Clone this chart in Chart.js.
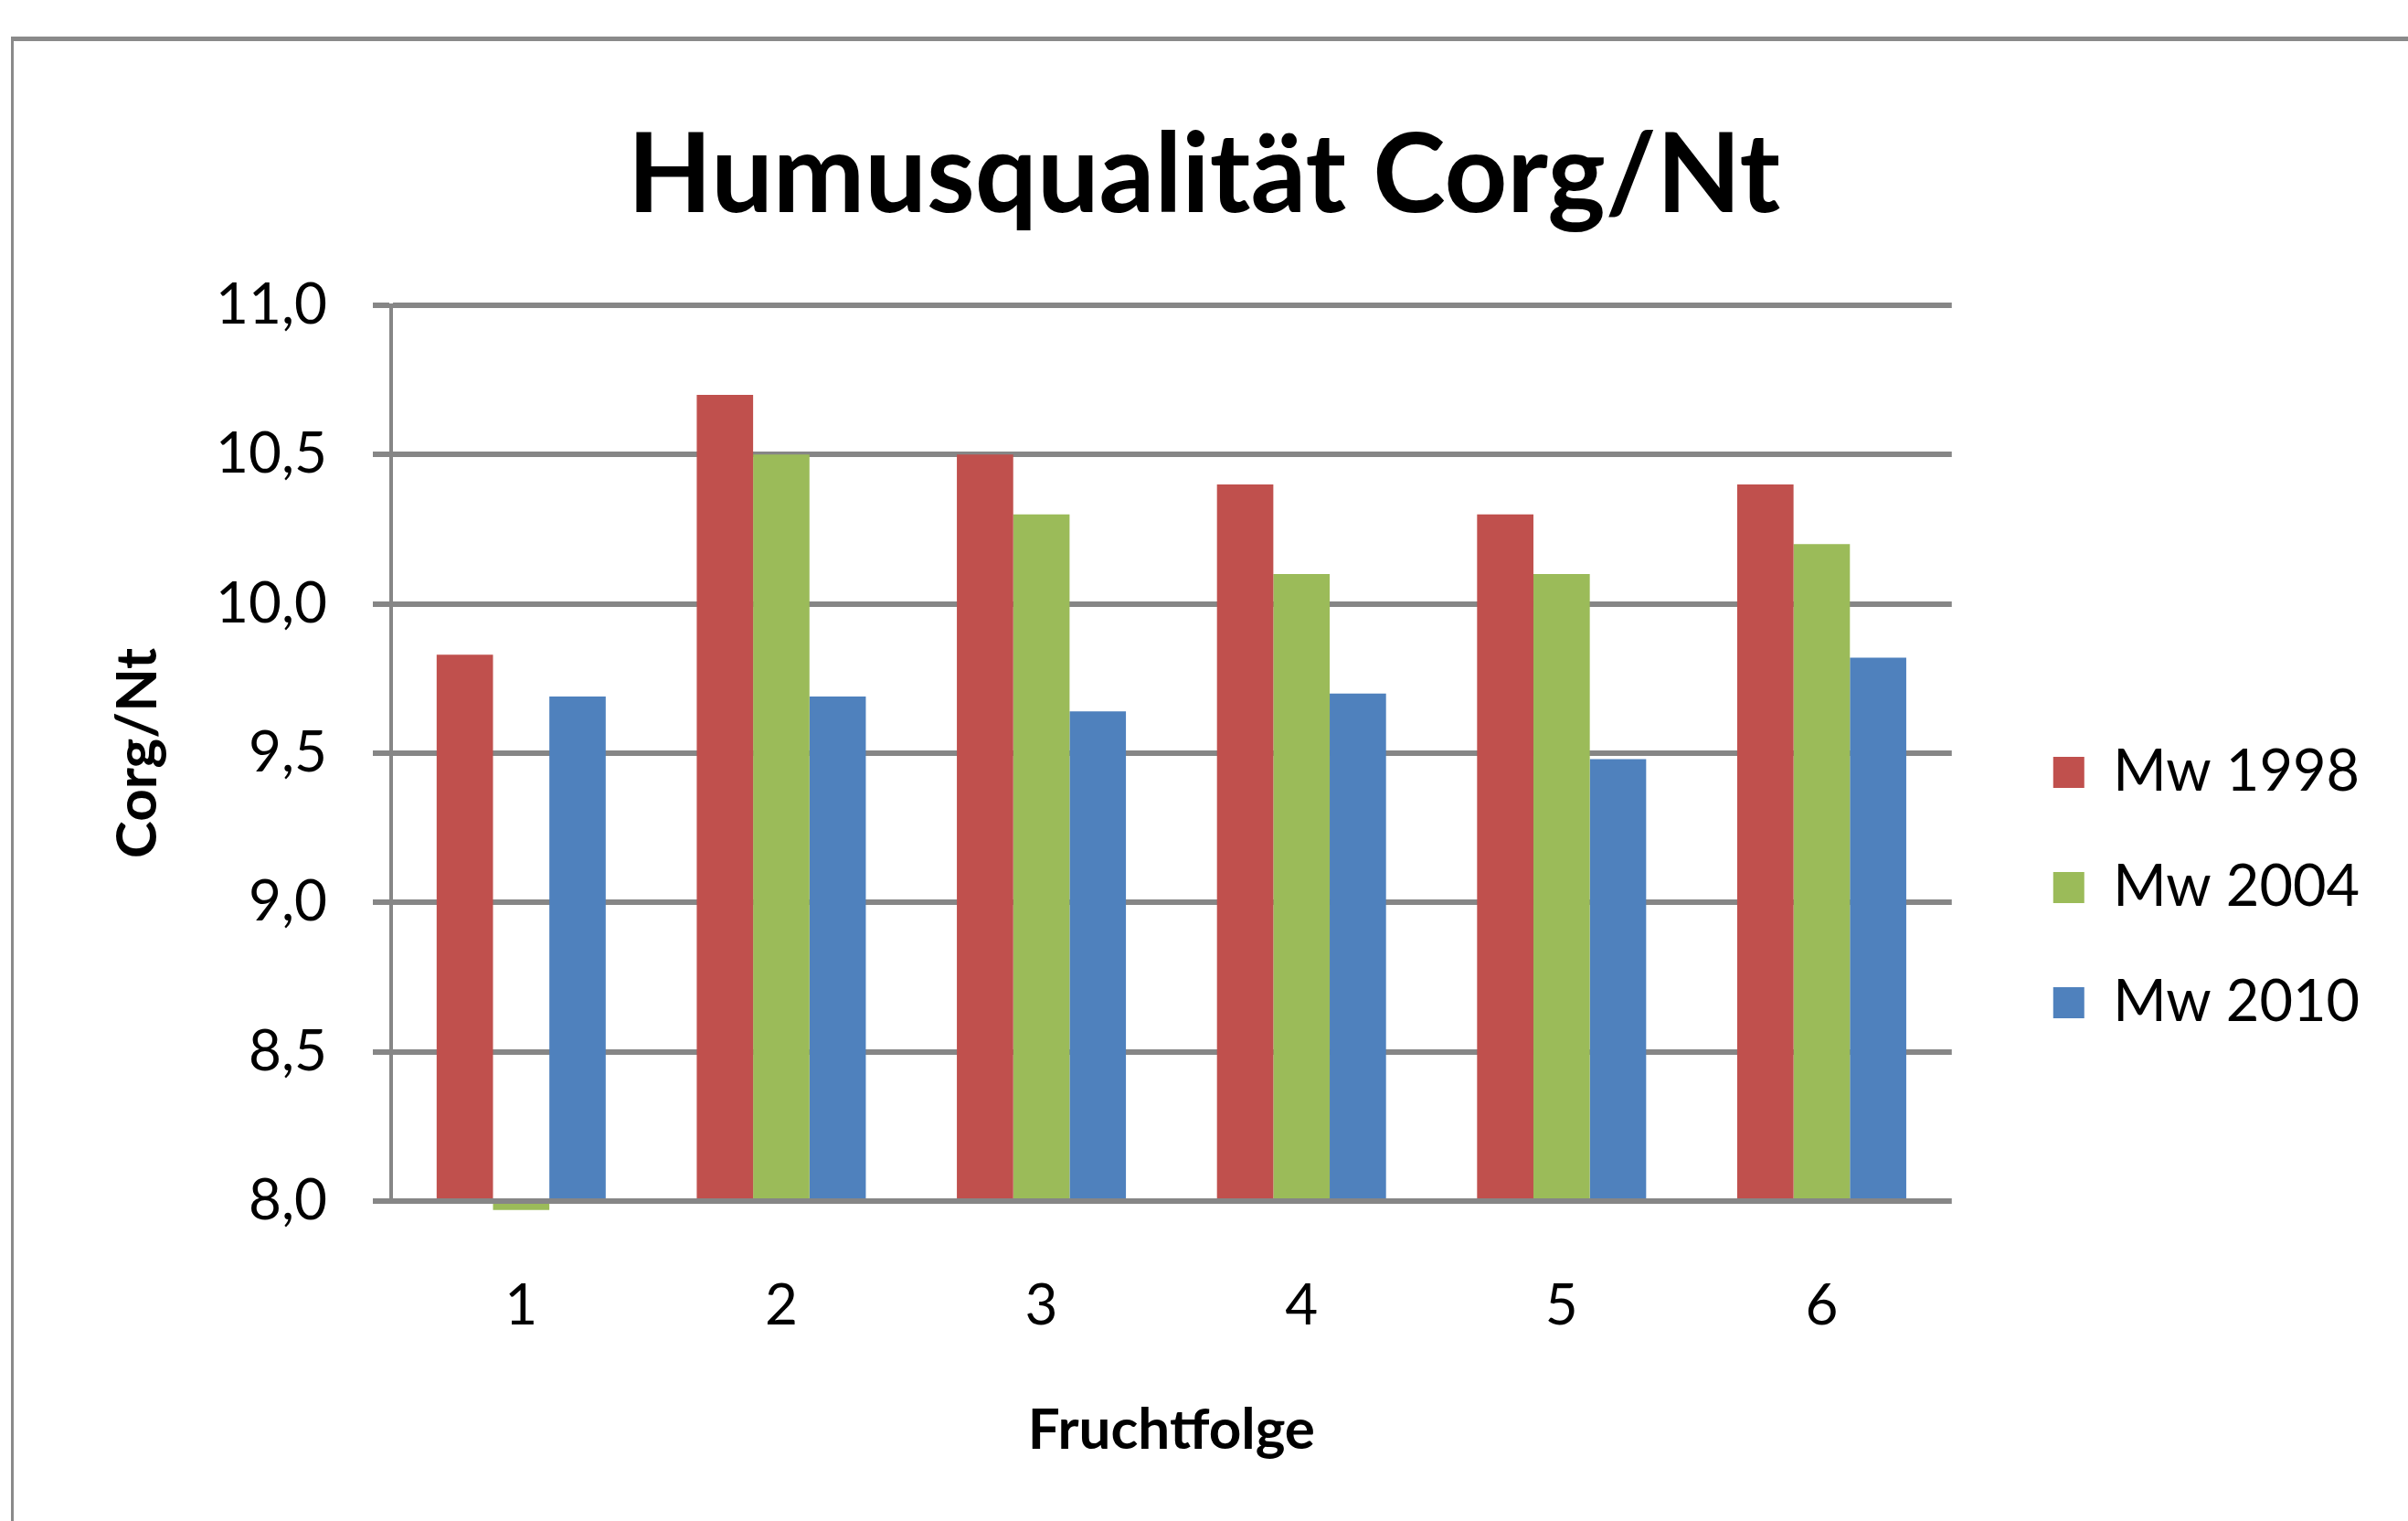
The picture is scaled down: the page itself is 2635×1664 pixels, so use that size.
<!DOCTYPE html>
<html>
<head>
<meta charset="utf-8">
<script src="https://cdn.jsdelivr.net/npm/chart.js@4.4.1/dist/chart.umd.min.js"></script>
<style>
  html, body { margin: 0; padding: 0; background: #fff; overflow: hidden; }
  #wrap { position: relative; width: 2635px; height: 1664px; overflow: hidden; }
  #chart { position: absolute; left: 0; top: 0; }
  #frame {
    position: absolute; left: 12px; top: 40px; width: 2700px; height: 1700px;
    border-top: 5px solid #8a8a8a; border-left: 3px solid #8a8a8a;
    pointer-events: none;
  }
</style>
</head>
<body>
<div id="wrap">
  <canvas id="chart" width="2635" height="1942"></canvas>
  <div id="frame"></div>
</div>
<script>
// values
const categories = ['1', '2', '3', '4', '5', '6'];
const mw1998 = [9.83, 10.70, 10.50, 10.40, 10.30, 10.40];
const mw2004 = [7.97, 10.50, 10.30, 10.10, 10.10, 10.20];
const mw2010 = [9.69, 9.69, 9.64, 9.70, 9.48, 9.82];
const yMin = 8.0;
const yMax = 11.0;
const yStep = 0.5;

const gridGray = '#868686';
const fontFamily = 'Lato, "Open Sans", sans-serif';

const ctx = document.getElementById('chart').getContext('2d');
new Chart(ctx, {
  type: 'bar',
  data: {
    labels: categories,
    datasets: [{
      label: 'Mw 1998',
      data: mw1998,
      backgroundColor: '#C0504D',
      base: yMin,
    }, {
      label: 'Mw 2004',
      data: mw2004,
      backgroundColor: '#9BBB59',
      base: yMin,
      clip: false,
    }, {
      label: 'Mw 2010',
      data: mw2010,
      backgroundColor: '#4F81BD',
      base: yMin,
    }],
  },
  options: {
    responsive: false,
    devicePixelRatio: 1,
    animation: false,
    categoryPercentage: 0.65,
    barPercentage: 1.0,
    layout: { padding: { left: 43, right: 43, top: 0, bottom: 0 } },
    plugins: {
      title: {
        display: true,
        text: 'Humusqualität Corg/Nt',
        color: '#000',
        font: { family: fontFamily, size: 120, weight: 'bold' },
        padding: { top: 121, bottom: 69 },
      },
      legend: {
        position: 'right',
        labels: {
          color: '#000',
          font: { family: fontFamily, size: 63 },
          boxWidth: 34,
          boxHeight: 34,
          padding: 63,
        },
      },
      tooltip: { enabled: false },
    },
    scales: {
      x: {
        grid: { display: false, drawTicks: false },
        border: { display: false },
        ticks: {
          color: '#000',
          font: { family: fontFamily, size: 62 },
          padding: 78,
        },
        title: {
          display: true,
          text: 'Fruchtfolge',
          color: '#000',
          font: { family: fontFamily, size: 62, weight: 'bold' },
          padding: { top: 0, bottom: 340 },
        },
        afterFit: (scale) => { scale.height = 628; },
      },
      y: {
        min: yMin,
        max: yMax,
        grid: { color: gridGray, lineWidth: 6, tickLength: 20 },
        border: { color: gridGray, width: 4 },
        ticks: {
          stepSize: yStep,
          color: '#000',
          font: { family: fontFamily, size: 62 },
          padding: 50,
          callback: (v) => v.toLocaleString('de-DE', { minimumFractionDigits: 1, maximumFractionDigits: 1 }),
        },
        title: {
          display: true,
          text: 'Corg/Nt',
          color: '#000',
          font: { family: fontFamily, size: 62, weight: 'bold' },
          padding: { top: 71, bottom: 0 },
        },
        afterFit: (scale) => { scale.width = 385; },
      },
      // spacer between plot and legend
      gap: {
        position: 'right',
        grid: { display: false },
        border: { display: false },
        ticks: { display: false },
        afterFit: (scale) => { scale.width = 48; },
      },
    },
  },
});
</script>
</body>
</html>
